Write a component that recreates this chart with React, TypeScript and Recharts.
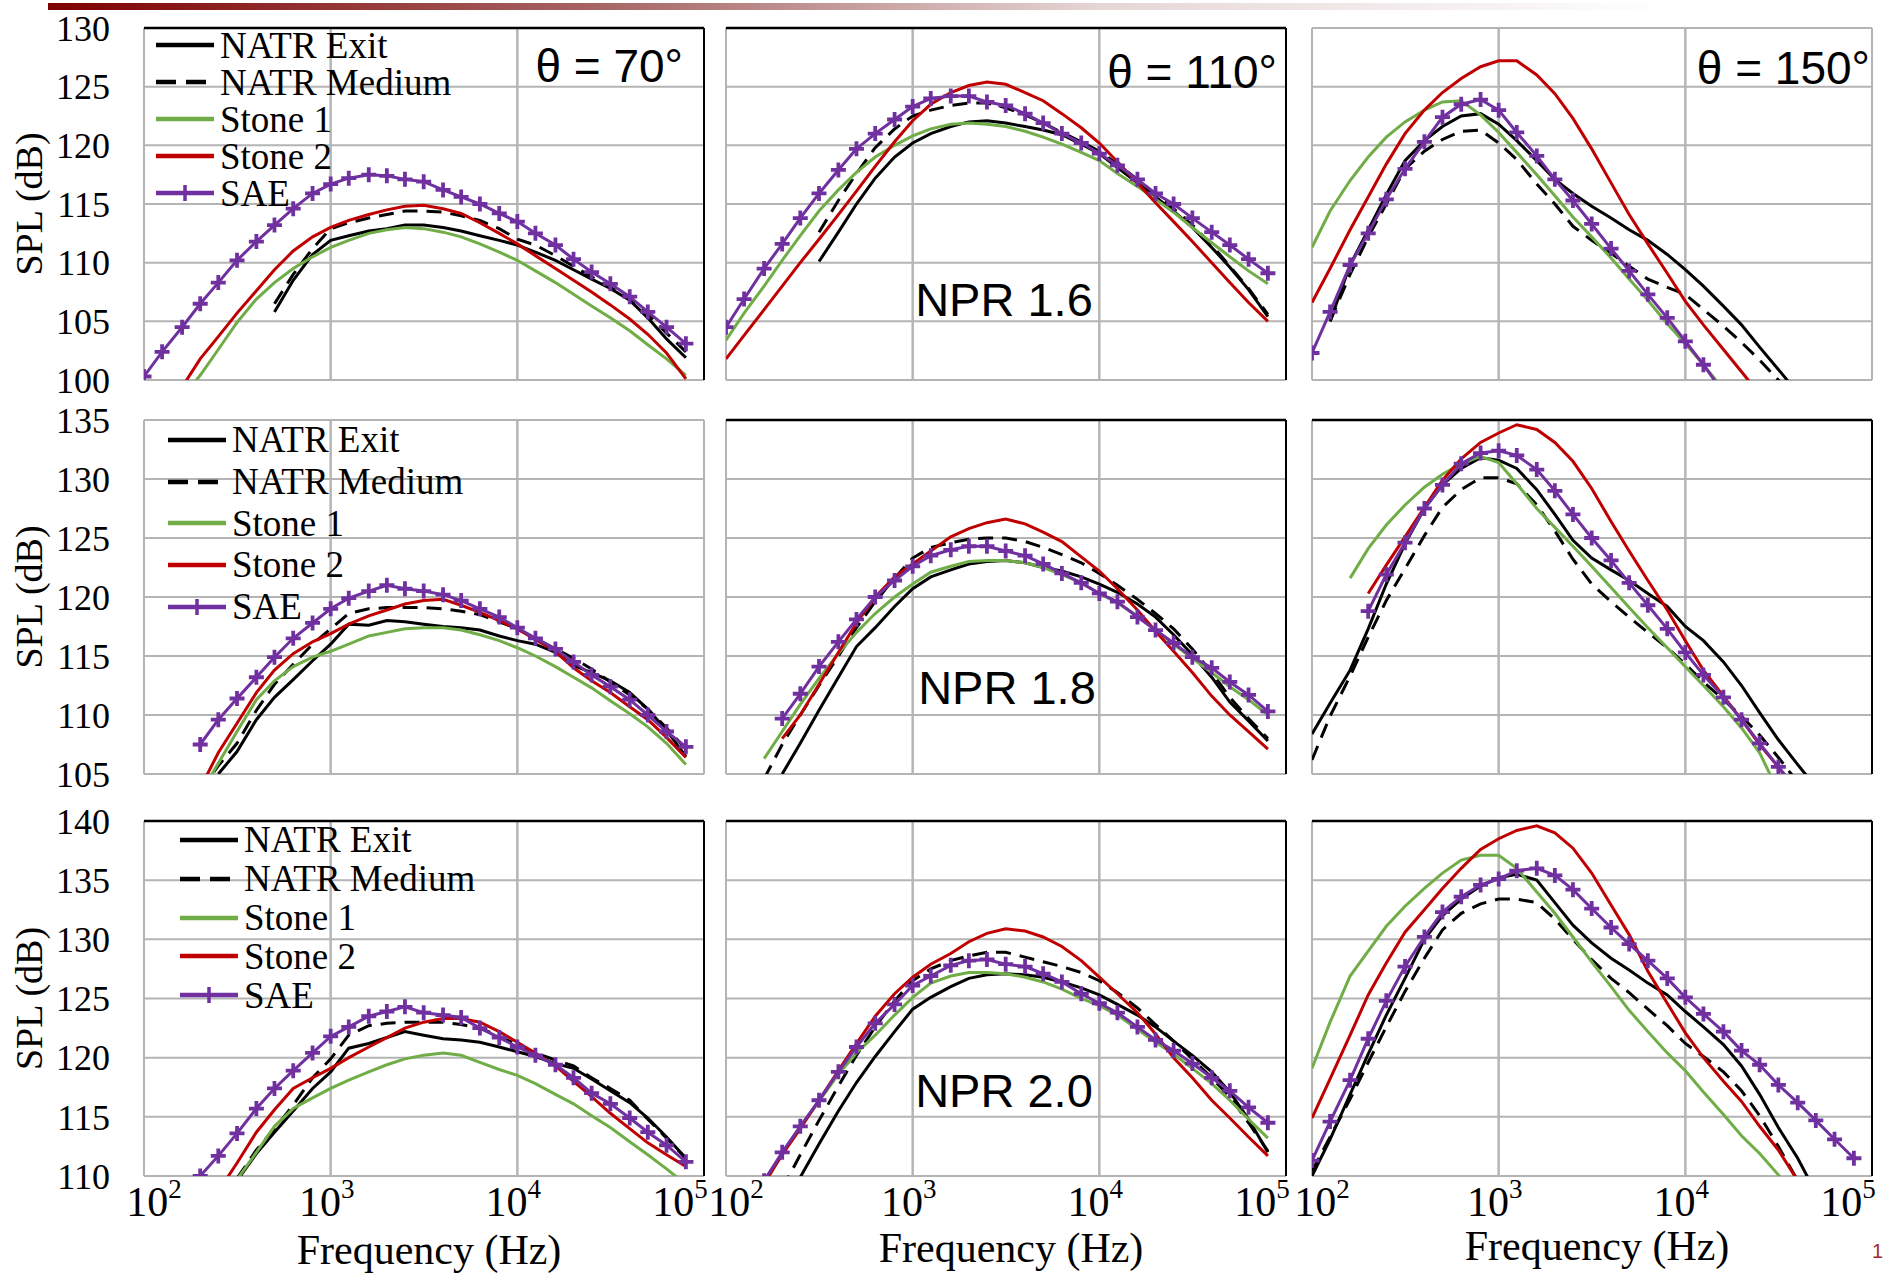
import React from 'react';
import { LineChart, Line, XAxis, YAxis, CartesianGrid, Legend, ReferenceLine } from 'recharts';

const _ = null;

// 1/3-octave band centre frequencies (Hz)
const FREQ = [
  100, 125, 160, 200, 250, 315, 400, 500, 630, 800,
  1000, 1250, 1600, 2000, 2500, 3150, 4000, 5000, 6300, 8000,
  10000, 12500, 16000, 20000, 25000, 31500, 40000, 50000, 63000, 80000,
];

const X_TICKS = [100, 1000, 10000, 100000];
const X_INNER_DECADES = [1000, 10000];
const Y_TICKS_16 = [100, 105, 110, 115, 120, 125, 130];
const Y_TICKS_18 = [105, 110, 115, 120, 125, 130, 135];
const Y_TICKS_20 = [110, 115, 120, 125, 130, 135, 140];

// ---- NPR 1.6 ----
const exit16_70 = [_, _, _, _, _, _, _, 105.8, 108.5, 110.7, 111.9, 112.3, 112.7, 112.9, 113.2, 113.2, 113.0, 112.7, 112.3, 111.9, 111.5, 110.9, 110.2, 109.4, 108.6, 107.8, 106.8, 105.3, 103.5, 101.9];
const medium16_70 = [_, _, _, _, _, _, _, 106.5, 109.0, 111.2, 112.9, 113.4, 113.8, 114.1, 114.4, 114.4, 114.3, 114.0, 113.6, 112.9, 112.0, 111.5, 110.6, 109.7, 108.8, 107.9, 106.9, 105.6, 104.0, 102.4];
const stone1_16_70 = [_, _, 98.5, 100.4, 102.6, 104.9, 106.9, 108.3, 109.5, 110.5, 111.3, 111.9, 112.5, 112.8, 113.0, 112.9, 112.6, 112.2, 111.6, 110.9, 110.2, 109.3, 108.3, 107.3, 106.3, 105.3, 104.2, 103.0, 101.8, 100.4];
const stone2_16_70 = [_, _, 99.4, 101.8, 103.7, 105.7, 107.6, 109.4, 111.0, 112.2, 113.0, 113.6, 114.1, 114.5, 114.8, 114.9, 114.6, 114.2, 113.4, 112.5, 111.6, 110.6, 109.5, 108.5, 107.5, 106.4, 105.2, 103.9, 102.3, 100.1];
const sae16_70 = [100.3, 102.4, 104.5, 106.5, 108.3, 110.2, 111.8, 113.2, 114.6, 115.9, 116.7, 117.2, 117.5, 117.4, 117.1, 116.9, 116.2, 115.6, 115.0, 114.2, 113.5, 112.5, 111.5, 110.3, 109.2, 108.2, 107.1, 105.8, 104.5, 103.1];

const exit16_110 = [_, _, _, _, _, 110.1, 112.6, 115.0, 117.2, 119.0, 120.2, 121.0, 121.6, 122.0, 122.1, 121.9, 121.6, 121.3, 120.9, 120.1, 119.3, 118.1, 116.8, 115.6, 114.4, 113.0, 111.3, 109.6, 107.7, 105.4];
const medium16_110 = [_, _, _, _, _, 112.6, 115.3, 117.6, 119.8, 121.4, 122.5, 123.0, 123.4, 123.6, 123.6, 123.2, 122.6, 121.9, 121.1, 120.3, 119.5, 118.4, 117.1, 115.8, 114.6, 113.2, 111.5, 109.7, 107.8, 105.6];
const stone1_16_110 = [103.4, 105.7, 108.0, 110.2, 112.3, 114.4, 116.2, 117.7, 119.0, 120.0, 120.8, 121.4, 121.8, 121.9, 121.8, 121.6, 121.2, 120.7, 120.1, 119.4, 118.7, 117.6, 116.5, 115.4, 114.3, 113.0, 111.7, 110.5, 109.3, 108.2];
const stone2_16_110 = [101.8, 103.8, 106.0, 108.0, 110.0, 112.0, 114.1, 116.1, 118.2, 120.3, 122.1, 123.5, 124.5, 125.1, 125.4, 125.2, 124.5, 123.8, 122.7, 121.5, 120.2, 118.6, 116.8, 115.1, 113.5, 111.8, 110.0, 108.3, 106.6, 105.0];
const sae16_110 = [104.5, 106.9, 109.5, 111.6, 113.8, 115.9, 117.9, 119.7, 121.0, 122.2, 123.3, 124.0, 124.2, 124.2, 123.7, 123.4, 122.7, 121.9, 121.0, 120.2, 119.3, 118.3, 117.1, 115.9, 115.0, 113.8, 112.6, 111.5, 110.3, 109.1];

const exit16_150 = [_, 105.0, 109.8, 112.8, 115.8, 118.7, 120.4, 121.6, 122.5, 122.7, 121.8, 120.4, 118.7, 117.1, 115.9, 114.8, 113.8, 112.8, 111.9, 110.7, 109.4, 108.0, 106.3, 104.7, 102.8, 100.9, 98.9, _, _, _];
const medium16_150 = [_, 105.0, 109.0, 112.2, 115.0, 118.0, 119.5, 120.5, 121.2, 121.3, 120.2, 118.8, 116.7, 115.0, 113.1, 111.9, 110.8, 109.7, 108.6, 107.9, 107.3, 106.0, 104.6, 103.2, 101.7, 100.0, 98.0, _, _, _];
const stone1_16_150 = [111.3, 114.4, 117.0, 119.0, 120.7, 122.0, 123.0, 123.7, 123.8, 122.6, 121.1, 119.4, 117.5, 115.7, 113.9, 112.2, 110.4, 108.6, 106.8, 104.8, 103.1, 101.3, 99.2, _, _, _, _, _, _, _];
const stone2_16_150 = [106.6, 109.5, 112.8, 115.6, 118.4, 121.0, 123.0, 124.5, 125.7, 126.7, 127.2, 127.2, 126.0, 124.4, 122.3, 119.7, 116.8, 114.1, 111.6, 109.1, 106.7, 104.7, 102.6, 100.7, 98.8, _, _, _, _, _];
const sae16_150 = [102.3, 105.8, 109.8, 112.5, 115.4, 118.0, 120.3, 122.4, 123.5, 123.9, 123.0, 121.1, 119.1, 117.1, 115.3, 113.3, 111.2, 109.3, 107.3, 105.3, 103.3, 101.3, 98.9, _, _, _, _, _, _, _];

// ---- NPR 1.8 ----
const exit18_70 = [_, _, _, _, 105.0, 106.9, 109.6, 111.5, 113.0, 114.6, 116.0, 117.7, 117.6, 118.0, 117.9, 117.7, 117.5, 117.4, 117.2, 116.7, 116.3, 116.0, 115.3, 114.2, 113.6, 112.9, 111.9, 110.5, 108.7, 106.5];
const medium18_70 = [_, _, _, 103.5, 105.7, 107.6, 110.4, 112.6, 114.3, 116.0, 117.3, 118.6, 119.0, 119.1, 119.1, 119.1, 119.0, 118.8, 118.5, 117.9, 117.3, 116.5, 115.6, 114.8, 113.9, 112.8, 111.7, 110.5, 108.9, 107.1];
const stone1_18_70 = [_, _, _, 103.3, 105.9, 108.6, 111.3, 112.9, 114.1, 114.9, 115.4, 116.0, 116.7, 117.0, 117.3, 117.4, 117.4, 117.2, 116.8, 116.3, 115.7, 115.0, 114.1, 113.2, 112.3, 111.2, 110.1, 109.0, 107.6, 105.8];
const stone2_18_70 = [_, _, _, 103.8, 106.8, 109.3, 111.9, 113.8, 115.2, 116.2, 116.9, 117.7, 118.4, 118.9, 119.4, 119.7, 119.8, 119.3, 118.7, 118.0, 117.3, 116.4, 115.4, 114.0, 112.9, 111.9, 110.7, 109.6, 108.1, 106.4];
const sae18_70 = [_, _, _, 107.5, 109.6, 111.4, 113.2, 114.9, 116.5, 117.8, 119.0, 119.9, 120.5, 121.0, 120.7, 120.5, 120.2, 119.7, 119.0, 118.3, 117.4, 116.5, 115.6, 114.5, 113.4, 112.4, 111.3, 110.0, 108.6, 107.3];

const exit18_110 = [_, _, _, 105.0, 107.6, 110.4, 113.2, 115.8, 117.4, 119.2, 120.7, 121.7, 122.3, 122.8, 123.0, 123.1, 122.9, 122.5, 122.2, 121.7, 121.1, 120.4, 119.4, 118.3, 116.8, 115.1, 113.2, 111.1, 109.5, 107.8];
const medium18_110 = [_, _, 104.6, 107.5, 110.0, 112.5, 115.0, 117.4, 119.6, 121.6, 123.3, 124.2, 124.6, 124.9, 125.0, 125.0, 124.7, 124.2, 123.6, 122.9, 122.0, 121.0, 119.8, 118.6, 117.3, 115.6, 113.6, 111.5, 109.7, 108.0];
const stone1_18_110 = [_, _, 106.3, 108.6, 110.9, 113.1, 115.2, 117.0, 118.6, 120.0, 121.1, 122.1, 122.6, 123.0, 123.1, 123.1, 122.9, 122.5, 121.9, 121.2, 120.3, 119.5, 118.4, 117.2, 116.0, 114.8, 113.6, 112.4, 111.3, 110.0];
const stone2_18_110 = [_, _, _, 108.0, 110.0, 112.6, 115.3, 117.8, 120.0, 121.7, 122.8, 123.9, 125.1, 125.8, 126.3, 126.6, 126.2, 125.5, 124.7, 123.4, 122.2, 120.7, 118.9, 117.1, 115.4, 113.6, 111.6, 110.0, 108.6, 107.1];
const sae18_110 = [_, _, _, 109.7, 111.8, 114.1, 116.2, 118.1, 120.0, 121.4, 122.6, 123.5, 124.0, 124.3, 124.3, 123.9, 123.5, 122.8, 122.0, 121.2, 120.3, 119.6, 118.3, 117.2, 116.1, 114.9, 114.0, 112.8, 111.7, 110.3];

const exit18_150 = [108.4, 111.0, 113.8, 117.3, 121.1, 124.5, 127.5, 129.5, 130.9, 131.8, 131.6, 130.9, 129.1, 127.0, 124.8, 123.3, 122.3, 121.4, 120.3, 119.2, 117.5, 116.3, 114.5, 112.5, 110.2, 107.9, 105.8, 103.9, _, _];
const medium18_150 = [106.2, 109.9, 113.3, 116.6, 119.7, 122.4, 125.2, 127.6, 129.1, 130.1, 130.1, 129.6, 127.8, 125.6, 123.2, 121.1, 119.6, 118.3, 117.0, 115.7, 114.3, 112.8, 111.3, 109.9, 108.3, 106.4, 104.3, _, _, _];
const stone1_18_150 = [_, _, 121.6, 124.1, 126.1, 127.8, 129.3, 130.4, 131.3, 131.9, 131.4, 129.6, 127.5, 125.9, 124.3, 122.6, 120.8, 119.1, 117.4, 115.7, 114.1, 112.5, 110.7, 108.9, 106.8, 103.5, _, _, _, _];
const stone2_18_150 = [_, _, _, 120.3, 122.7, 125.1, 127.6, 129.9, 131.7, 133.1, 133.9, 134.6, 134.2, 133.1, 131.5, 129.2, 126.4, 123.9, 121.4, 118.9, 116.3, 113.8, 111.6, 109.6, 107.5, 105.6, 103.4, _, _, _];
const sae18_150 = [_, _, _, 118.8, 121.9, 124.6, 127.5, 129.5, 131.3, 132.2, 132.4, 132.0, 130.8, 129.0, 127.0, 125.0, 123.1, 121.2, 119.3, 117.3, 115.3, 113.4, 111.5, 109.6, 107.6, 105.6, 103.6, _, _, _];

// ---- NPR 2.0 ----
const exit20_70 = [_, _, _, _, _, 109.6, 111.9, 113.7, 115.5, 117.4, 118.8, 120.8, 121.2, 121.7, 122.2, 121.9, 121.6, 121.5, 121.3, 120.9, 120.5, 120.1, 119.5, 119.1, 118.2, 117.2, 116.2, 114.9, 113.3, 111.5];
const medium20_70 = [_, _, _, _, _, 109.8, 112.2, 114.0, 116.0, 118.3, 119.9, 121.9, 122.7, 122.9, 123.0, 123.0, 123.0, 122.8, 122.5, 121.8, 121.1, 120.4, 119.8, 119.3, 118.3, 117.4, 116.4, 114.8, 113.2, 111.5];
const stone1_20_70 = [_, _, _, _, _, 109.7, 112.0, 114.2, 115.7, 116.6, 117.4, 118.1, 118.8, 119.4, 119.9, 120.2, 120.4, 120.2, 119.6, 119.0, 118.5, 117.8, 116.9, 116.1, 115.1, 114.1, 112.9, 111.8, 110.6, 109.3];
const stone2_20_70 = [_, _, _, _, 108.7, 111.1, 113.7, 115.6, 117.4, 118.3, 119.1, 120.0, 120.9, 121.7, 122.5, 123.0, 123.3, 123.3, 123.0, 122.2, 121.3, 120.4, 119.3, 118.0, 116.7, 115.3, 114.0, 112.8, 111.8, 110.8];
const sae20_70 = [_, _, _, 110.0, 111.7, 113.6, 115.7, 117.4, 118.9, 120.4, 121.8, 122.6, 123.5, 123.9, 124.3, 123.8, 123.6, 123.4, 122.5, 121.7, 120.9, 120.2, 119.4, 118.3, 117.0, 116.1, 114.9, 113.7, 112.6, 111.2];

const exit20_110 = [_, _, _, _, 109.9, 112.7, 115.5, 117.9, 120.1, 122.2, 124.1, 125.1, 126.0, 126.7, 127.0, 127.1, 127.0, 126.8, 126.4, 125.9, 125.3, 124.5, 123.6, 122.6, 121.4, 120.2, 118.8, 117.1, 114.8, 112.0];
const medium20_110 = [_, _, _, 108.9, 111.8, 114.7, 117.6, 120.2, 122.6, 124.8, 126.5, 127.5, 128.2, 128.6, 128.9, 128.9, 128.5, 128.1, 127.7, 127.2, 126.5, 125.5, 124.2, 122.8, 121.4, 119.9, 118.3, 116.7, 114.5, 112.1];
const stone1_20_110 = [_, _, 109.2, 111.9, 114.2, 116.3, 118.6, 120.4, 121.9, 123.6, 125.1, 126.3, 126.9, 127.2, 127.2, 127.1, 126.8, 126.4, 125.8, 125.0, 124.4, 123.6, 122.4, 121.3, 120.3, 119.1, 117.8, 116.4, 114.8, 113.2];
const stone2_20_110 = [_, _, 109.4, 111.8, 114.0, 116.4, 118.9, 121.2, 123.5, 125.4, 126.8, 127.9, 128.8, 129.8, 130.5, 130.9, 130.7, 130.2, 129.4, 128.2, 126.8, 125.4, 123.8, 122.0, 120.0, 118.3, 116.4, 114.9, 113.3, 111.7];
const sae20_110 = [_, _, 109.6, 112.0, 114.2, 116.4, 118.8, 120.9, 122.9, 124.5, 126.1, 126.9, 127.8, 128.2, 128.3, 127.9, 127.7, 127.1, 126.4, 125.4, 124.6, 123.8, 122.6, 121.5, 120.6, 119.5, 118.3, 117.2, 115.8, 114.5];

const exit20_150 = [110.0, 113.1, 116.9, 120.3, 123.6, 126.7, 130.0, 132.0, 133.4, 134.5, 135.2, 135.5, 135.0, 133.1, 131.2, 129.7, 128.4, 127.4, 126.3, 125.3, 123.9, 122.6, 121.1, 119.3, 116.9, 114.1, 111.5, 108.6, _, _];
const medium20_150 = [110.4, 113.3, 116.5, 119.6, 122.6, 125.6, 128.4, 130.8, 132.2, 133.0, 133.4, 133.4, 133.1, 131.7, 130.0, 128.3, 126.7, 125.5, 124.1, 122.7, 121.2, 120.1, 118.8, 117.2, 115.1, 112.5, 109.6, _, _, _];
const stone1_20_150 = [119.1, 123.0, 126.9, 129.0, 131.1, 132.8, 134.3, 135.6, 136.7, 137.1, 137.1, 136.0, 134.0, 132.2, 130.2, 128.1, 126.0, 124.0, 122.2, 120.4, 118.9, 117.1, 115.2, 113.4, 111.9, 110.1, 107.8, _, _, _];
const stone2_20_150 = [114.9, 118.2, 121.9, 125.3, 128.0, 130.6, 132.5, 134.3, 136.0, 137.6, 138.5, 139.2, 139.6, 139.0, 137.7, 135.6, 132.9, 130.4, 127.3, 124.6, 122.1, 120.0, 118.0, 116.3, 114.2, 112.2, 109.6, _, _, _];
const sae20_150 = [111.3, 114.6, 118.1, 121.6, 124.8, 127.7, 130.2, 132.3, 133.6, 134.6, 135.1, 135.8, 136.0, 135.4, 134.2, 132.6, 131.0, 129.6, 128.2, 126.7, 125.1, 123.7, 122.2, 120.6, 119.4, 117.7, 116.2, 114.7, 113.1, 111.5];

const SERIF = '"Liberation Serif", "Times New Roman", serif';
const SANS = '"Liberation Sans", Arial, sans-serif';
const GRID = '#b4b4b4';

const SERIES = [
  { key: 'exit', name: 'NATR Exit', color: '#000000', dash: undefined as string | undefined, marker: false },
  { key: 'medium', name: 'NATR Medium', color: '#000000', dash: '15 9', marker: false },
  { key: 'stone1', name: 'Stone 1', color: '#70ad47', dash: undefined, marker: false },
  { key: 'stone2', name: 'Stone 2', color: '#c00000', dash: undefined, marker: false },
  { key: 'sae', name: 'SAE', color: '#7030a0', dash: undefined, marker: true },
];

const buildRows = (exit: any[], medium: any[], stone1: any[], stone2: any[], sae: any[]) =>
  FREQ.map((f, i) => ({ f, exit: exit[i], medium: medium[i], stone1: stone1[i], stone2: stone2[i], sae: sae[i] }));

// layout
const COLS = [{ left: 144, right: 704 }, { left: 726, right: 1286 }, { left: 1312, right: 1872 }];
const ROWS = [{ top: 28, bottom: 380 }, { top: 420, bottom: 774 }, { top: 821, bottom: 1176 }];
const YW = 142;
const MT = 24;
const MR = 44;
const XH = 100;

const PANELS = [
  { row: 0, col: 0, yTicks: Y_TICKS_16, data: buildRows(exit16_70, medium16_70, stone1_16_70, stone2_16_70, sae16_70), edge: true, legend: { left: 152, top: 22.5, spacing: 37 } },
  { row: 0, col: 1, yTicks: Y_TICKS_16, data: buildRows(exit16_110, medium16_110, stone1_16_110, stone2_16_110, sae16_110), edge: true },
  { row: 0, col: 2, yTicks: Y_TICKS_16, data: buildRows(exit16_150, medium16_150, stone1_16_150, stone2_16_150, sae16_150), edge: false },
  { row: 1, col: 0, yTicks: Y_TICKS_18, data: buildRows(exit18_70, medium18_70, stone1_18_70, stone2_18_70, sae18_70), edge: false, legend: { left: 164, top: 23, spacing: 41.7 } },
  { row: 1, col: 1, yTicks: Y_TICKS_18, data: buildRows(exit18_110, medium18_110, stone1_18_110, stone2_18_110, sae18_110), edge: true },
  { row: 1, col: 2, yTicks: Y_TICKS_18, data: buildRows(exit18_150, medium18_150, stone1_18_150, stone2_18_150, sae18_150), edge: true },
  { row: 2, col: 0, yTicks: Y_TICKS_20, data: buildRows(exit20_70, medium20_70, stone1_20_70, stone2_20_70, sae20_70), edge: true, legend: { left: 176, top: 23.6, spacing: 38.8 } },
  { row: 2, col: 1, yTicks: Y_TICKS_20, data: buildRows(exit20_110, medium20_110, stone1_20_110, stone2_20_110, sae20_110), edge: true },
  { row: 2, col: 2, yTicks: Y_TICKS_20, data: buildRows(exit20_150, medium20_150, stone1_20_150, stone2_20_150, sae20_150), edge: true },
];

const X_LABEL_DY = [88, 86, 84];

const PlusDot = (props: any) => {
  const { cx, cy, index, value } = props;
  if (cx == null || cy == null || value == null) return <g key={`p-${index}`} />;
  return (
    <path
      key={`p-${index}`}
      d={`M${cx - 7.5},${cy}H${cx + 7.5}M${cx},${cy - 7.5}V${cy + 7.5}`}
      stroke="#7030a0"
      strokeWidth={3.8}
      fill="none"
    />
  );
};

const EmptyTick = () => <g />;

const XTick = (props: any) => {
  const { x, y, payload, index } = props;
  const exp = Math.round(Math.log10(payload.value));
  const dx = index === 0 ? 10 : index === X_TICKS.length - 1 ? -24 : -4;
  return (
    <text x={x + dx} y={y + 40} textAnchor="middle" fontFamily={SERIF} fontSize={42} fill="#000">
      <tspan>10</tspan>
      <tspan dy={-18} fontSize={27}>{exp}</tspan>
    </text>
  );
};

// legend rows follow the series order of the original figure
const makeLegend = (spacing: number) => () => (
  <div style={{ fontFamily: SERIF, fontSize: 37, color: '#000' }}>
    {SERIES.map((s) => (
      <div key={s.key} style={{ display: 'flex', alignItems: 'center', height: spacing, whiteSpace: 'nowrap' }}>
        <svg width={62} height={20} style={{ display: 'block' }}>
          <line x1={2} x2={60} y1={10} y2={10} stroke={s.color} strokeWidth={4.5} strokeDasharray={s.dash ? '20 10' : undefined} />
          {s.marker && <path d="M31,2V18" stroke={s.color} strokeWidth={3.5} />}
        </svg>
        <span style={{ marginLeft: 4, lineHeight: 1 }}>{s.name}</span>
      </div>
    ))}
  </div>
);

const Panel = ({ p }: { p: any }) => {
  const col = COLS[p.col];
  const row = ROWS[p.row];
  const pw = col.right - col.left;
  const ph = row.bottom - row.top;
  const width = YW + pw + MR;
  const height = MT + ph + XH;
  const yMin = p.yTicks[0];
  const yMax = p.yTicks[p.yTicks.length - 1];
  const firstCol = p.col === 0;
  const lastRow = p.row === 2;
  return (
    <div style={{ position: 'absolute', left: col.left - YW, top: row.top - MT }}>
      <LineChart width={width} height={height} data={p.data} margin={{ top: MT, right: MR, left: 0, bottom: 0 }}>
        <CartesianGrid stroke={GRID} strokeWidth={2} />
        <XAxis
          dataKey="f"
          type="number"
          scale="log"
          domain={[100, 100000]}
          ticks={X_TICKS}
          allowDataOverflow
          height={XH}
          axisLine={false}
          tickLine={false}
          tickSize={0}
          tickMargin={0}
          interval={0}
          tick={lastRow ? <XTick /> : <EmptyTick />}
          label={
            lastRow
              ? {
                  content: (lp: any) => {
                    const vb = lp.viewBox;
                    return (
                      <text x={vb.x + vb.width / 2 + 5} y={vb.y + X_LABEL_DY[p.col]} textAnchor="middle" fontFamily={SERIF} fontSize={42} fill="#000">
                        Frequency (Hz)
                      </text>
                    );
                  },
                }
              : undefined
          }
        />
        <YAxis
          type="number"
          domain={[yMin, yMax]}
          ticks={p.yTicks}
          allowDataOverflow
          width={YW}
          axisLine={false}
          tickLine={false}
          tickSize={0}
          tickMargin={34}
          interval={0}
          tick={firstCol ? { fontFamily: SERIF, fontSize: 36, fill: '#000' } : <EmptyTick />}
          label={
            firstCol
              ? {
                  content: (lp: any) => {
                    const vb = lp.viewBox;
                    const cy = vb.y + vb.height / 2;
                    return (
                      <text transform={`translate(${vb.x + 40},${cy}) rotate(-90)`} textAnchor="middle" fontFamily={SERIF} fontSize={38} fill="#000">
                        SPL (dB)
                      </text>
                    );
                  },
                }
              : undefined
          }
        />
        {X_INNER_DECADES.map((d) => (
          <ReferenceLine key={`dec-${d}`} x={d} stroke={GRID} strokeWidth={2} {...({ zIndex: -50 } as any)} />
        ))}
        {p.edge && <ReferenceLine y={yMax} stroke="#000" strokeWidth={2.5} />}
        {p.edge && <ReferenceLine x={100000} stroke="#000" strokeWidth={2} />}
        {SERIES.map((s) => (
          <Line
            key={s.key}
            dataKey={s.key}
            name={s.name}
            type="linear"
            stroke={s.color}
            strokeWidth={3}
            strokeDasharray={s.dash}
            dot={s.marker ? PlusDot : false}
            activeDot={false}
            connectNulls={false}
            isAnimationActive={false}
          />
        ))}
        {p.legend && (
          <Legend
            layout="vertical"
            align="center"
            verticalAlign="middle"
            content={makeLegend(p.legend.spacing)}
            wrapperStyle={{ left: p.legend.left, top: p.legend.top, width: 420, height: p.legend.spacing * 5 }}
          />
        )}
      </LineChart>
    </div>
  );
};

const App = () => (
  <div style={{ position: 'absolute', left: 0, top: 0, width: 1886, height: 1277, background: '#fff', overflow: 'hidden' }}>
    <div
      style={{
        position: 'absolute',
        left: 48,
        top: 3,
        width: 1620,
        height: 7,
        background: 'linear-gradient(to right, #7f0000 0%, #a86868 35%, #e6d6d6 65%, #ffffff 100%)',
      }}
    />
    {PANELS.map((p, i) => (
      <Panel key={i} p={p} />
    ))}
    <svg width={1886} height={1277} style={{ position: 'absolute', left: 0, top: 0, pointerEvents: 'none' }}>
      <g fontFamily={SANS} fontSize={46} fill="#000">
        <text x={683} y={82} textAnchor="end">θ = 70°</text>
        <text x={1277} y={88} textAnchor="end">θ = 110°</text>
        <text x={1870} y={84} textAnchor="end">θ = 150°</text>
      </g>
      <g fontFamily={SANS} fontSize={47} fill="#000" textAnchor="middle">
        <text x={1004} y={316}>NPR 1.6</text>
        <text x={1007} y={704}>NPR 1.8</text>
        <text x={1004} y={1107}>NPR 2.0</text>
      </g>
      <text x={1872} y={1258} fontFamily={SANS} fontSize={20} fill="#a52a2a">1</text>
    </svg>
  </div>
);

export default App;
